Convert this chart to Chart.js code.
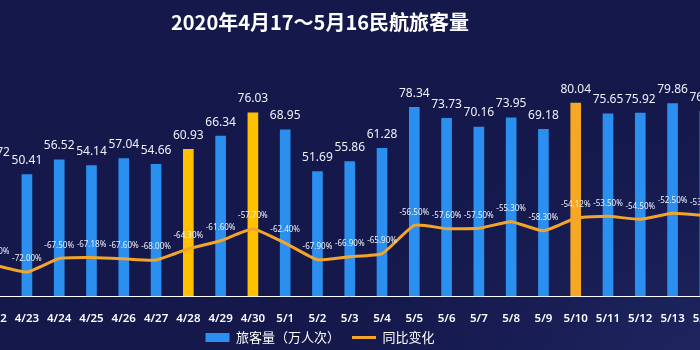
<!DOCTYPE html>
<html>
<head>
<meta charset="utf-8">
<script src="https://cdn.jsdelivr.net/npm/chart.js@4.4.1/dist/chart.umd.min.js"></script>
<style>
  html, body { margin: 0; padding: 0; }
  body {
    width: 700px; height: 350px; overflow: hidden; position: relative;
    background: radial-gradient(ellipse 420px 260px at 720px 360px, #1f2660 0%, #171c52 55%, #14184a 100%), #14184a;
  }
  #wrap { position: absolute; left: -85px; top: 0; width: 810px; height: 350px; }
</style>
</head>
<body>
<div id="wrap"><canvas id="chart"></canvas></div>
<script>
// visible part of the window 4/17 - 5/16
const dates = ["4/22", "4/23", "4/24", "4/25", "4/26", "4/27", "4/28", "4/29", "4/30", "5/1", "5/2", "5/3",
    "5/4", "5/5", "5/6", "5/7", "5/8", "5/9", "5/10", "5/11", "5/12", "5/13", "5/14"]
const passengers = [53.72, 50.41, 56.52, 54.14, 57.04, 54.66, 60.93, 66.34, 76.03, 68.95, 51.69, 55.86,
    61.28, 78.34, 73.73, 70.16, 73.95, 69.18, 80.04, 75.65, 75.92, 79.86, 76.68]
const yoyChange = [-69.7, -72.0, -67.5, -67.18, -67.6, -68.0, -64.3, -61.6, -57.7, -62.4, -67.9, -66.9,
    -65.9, -56.5, -57.6, -57.5, -55.3, -58.3, -54.12, -53.5, -54.5, -52.5, -53.2]
const yoyLabels = ["-69.70%", "-72.00%", "-67.50%", "-67.18%", "-67.60%", "-68.00%", "-64.30%", "-61.60%",
    "-57.70%", "-62.40%", "-67.90%", "-66.90%", "-65.90%", "-56.50%", "-57.60%", "-57.50%", "-55.30%",
    "-58.30%", "-54.12%", "-53.50%", "-54.50%", "-52.50%", "-53.20%"]

const BLUE = "#2b8ff0"
const highlightColors = { "4/28": "#ffc000", "4/30": "#ffc000", "5/10": "#f7a823" }
const barColors = dates.map((d) => highlightColors[d] || BLUE)
const LINE_COLOR = "#f3a52a"

// value labels above bars and points
const valueLabels = {
    id: "valueLabels",
    afterLayout(chart) {
        // the x axis box is squeezed below, let its labels draw past the box
        chart.scales.x.bottom = chart.height
    },
    afterDatasetsDraw(chart) {
        const ctx = chart.ctx
        ctx.save()
        ctx.textAlign = "center"
        ctx.textBaseline = "middle"
        ctx.fillStyle = "#eef0fa"

        ctx.font = "12px 'Noto Sans', 'Open Sans', sans-serif"
        chart.getDatasetMeta(0).data.forEach((bar, i) => {
            ctx.fillText(passengers[i].toFixed(2), bar.x, bar.y - 14)
        })

        ctx.font = "8px 'Noto Sans', 'Open Sans', sans-serif"
        chart.getDatasetMeta(1).data.forEach((pt, i) => {
            ctx.fillText(yoyLabels[i], pt.x, pt.y - 13)
        })
        ctx.restore()
    },
}

const chart = new Chart(document.getElementById("chart"), {
    type: "bar",
    data: {
        labels: dates,
        datasets: [
            {
                label: "旅客量（万人次）",
                data: passengers,
                backgroundColor: barColors,
                barThickness: 10,
                yAxisID: "y",
                order: 1,
            },
            {
                type: "line",
                label: "同比变化",
                data: yoyChange,
                borderColor: LINE_COLOR,
                backgroundColor: LINE_COLOR,
                borderWidth: 3,
                pointRadius: 0,
                tension: 0.15,
                yAxisID: "y1",
                order: 0,
            },
        ],
    },
    plugins: [valueLabels],
    options: {
        responsive: true,
        maintainAspectRatio: false,
        animation: false,
        layout: { padding: { left: 0, right: 0, top: 0, bottom: -4 } },
        scales: {
            x: {
                offset: true,
                grid: { display: false },
                border: { display: true, color: "#ffffff", width: 1 },
                ticks: {
                    color: "#ffffff",
                    padding: 8,
                    maxRotation: 0,
                    autoSkip: false,
                    font: { size: 11.5, weight: "600", family: "'Noto Sans', 'Open Sans', sans-serif" },
                },
                afterFit(scale) {
                    scale.height -= 15
                },
            },
            // hidden axis, only keeps room on the left so the plot is cut like the original
            y: {
                min: 0,
                max: 100,
                grid: { display: false },
                border: { display: false },
                ticks: { display: false },
                afterFit(scale) {
                    scale.width = 63.5
                },
            },
            y1: { display: false, min: -80, max: 0, position: "right" },
        },
        plugins: {
            title: {
                display: true,
                text: "2020年4月17～5月16民航旅客量",
                color: "#ffffff",
                font: { size: 20, weight: "bold", family: "'Noto Sans CJK SC', sans-serif" },
                padding: { top: 10, bottom: 21 },
            },
            legend: {
                position: "bottom",
                labels: {
                    color: "#ffffff",
                    usePointStyle: true,
                    pointStyleWidth: 24,
                    boxHeight: 9,
                    padding: 12,
                    font: { size: 13, family: "'Noto Sans CJK SC', sans-serif" },
                    sort: (a, b) => a.datasetIndex - b.datasetIndex,
                    generateLabels(chart) {
                        const items = Chart.defaults.plugins.legend.labels.generateLabels(chart)
                        for (const item of items) {
                            if (item.datasetIndex === 0) {
                                item.pointStyle = "rect"
                                item.fillStyle = BLUE
                                item.lineWidth = 0
                                item.strokeStyle = BLUE
                            } else {
                                item.pointStyle = "line"
                                item.lineWidth = 3
                                item.strokeStyle = LINE_COLOR
                            }
                            item.fontColor = "#ffffff"
                        }
                        return items
                    },
                },
            },
            tooltip: { enabled: false },
        },
    },
})
</script>
</body>
</html>
